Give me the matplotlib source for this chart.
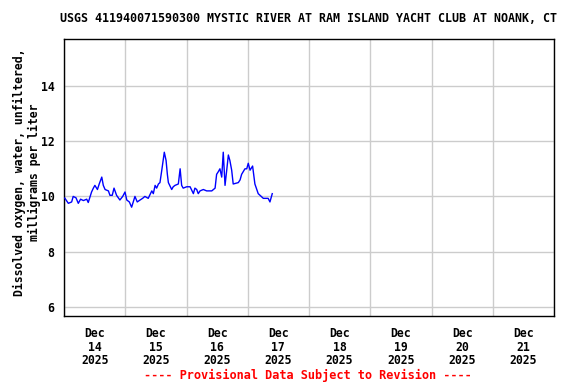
import matplotlib
matplotlib.use("Agg")
import matplotlib.pyplot as plt
import numpy as np
from datetime import datetime, timedelta

# hours since Dec 14 2025 00:00 and dissolved oxygen (mg/L)
hours = [0.3, 1.7, 3.0, 3.6, 4.7, 5.6, 6.5, 7.6, 8.9, 9.5, 10.8, 11.5, 12.1, 13.1,
         13.8, 14.8, 15.4, 16.1, 17.4, 18.0, 18.9, 19.6, 20.6, 21.9, 23.0, 23.9,
         24.6, 25.6, 26.5, 27.8, 28.7, 29.8, 30.8, 31.7, 33.0, 34.4, 35.0, 35.7,
         36.3, 37.0, 37.6, 38.3, 39.3, 40.0, 40.5, 40.9, 42.2, 42.8, 43.5, 44.8,
         45.5, 46.1, 46.7, 48.1, 49.4, 50.7, 51.3, 52.0, 52.6, 53.3, 54.6, 55.9,
         57.9, 59.2, 59.8, 60.5, 61.1, 61.8, 62.4, 63.1, 63.7, 64.4, 65.0, 65.7,
         66.3, 68.3, 69.0, 69.6, 70.9, 71.6, 72.2, 72.9, 73.9, 74.8, 76.1, 78.1,
         80.0, 80.7, 81.6]
oxygen = [9.94, 9.75, 9.8, 10.0, 9.95, 9.75, 9.9, 9.85, 9.9, 9.78, 10.16, 10.3, 10.4, 10.25,
          10.45, 10.7, 10.4, 10.25, 10.2, 10.04, 10.04, 10.3, 10.04, 9.87, 10.0, 10.16,
          9.87, 9.8, 9.61, 10.0, 9.8, 9.87, 9.93, 10.0, 9.93, 10.2, 10.1, 10.4,
          10.3, 10.45, 10.5, 10.94, 11.6, 11.3, 10.8, 10.5, 10.25, 10.35, 10.4, 10.45,
          11.0, 10.4, 10.3, 10.35, 10.35, 10.1, 10.3, 10.25, 10.1, 10.2, 10.25, 10.2,
          10.2, 10.3, 10.8, 10.9, 11.0, 10.7, 11.6, 10.4, 10.9, 11.5, 11.3, 10.95,
          10.45, 10.5, 10.6, 10.8, 11.0, 11.0, 11.2, 10.95, 11.1, 10.45, 10.1, 9.93,
          9.93, 9.8, 10.1]

start = datetime(2025, 12, 14)
n_days = 8
yticks = [6, 8, 10, 12, 14]

mono = "DejaVu Sans Mono"
times = [start + timedelta(hours=h) for h in hours]

fig = plt.figure(figsize=(5.76, 3.84), dpi=100)
ax = fig.add_axes([64 / 576, 1 - 316 / 384, 490 / 576, 277 / 384])

ax.plot(times, oxygen, color="#0000ff", linewidth=1, zorder=3)

ax.set_xlim(start, start + timedelta(days=n_days))
ax.set_ylim(5.67, 15.7)

# gridlines at midnight, labels at noon
days = [start + timedelta(days=i) for i in range(n_days + 1)]
ax.set_xticks(days, minor=False)
ax.set_xticklabels([])
noons = [d + timedelta(hours=12) for d in days[:-1]]
ax.set_xticks(noons, minor=True)
ax.set_xticklabels([f"Dec\n{d.day}\n{d.year}" for d in noons], minor=True,
                   family=mono, fontweight="bold", fontsize=8.3, linespacing=1.05)
ax.tick_params(axis="x", which="both", length=0, pad=8)

ax.set_yticks(yticks)
ax.set_yticklabels([str(v) for v in yticks], family=mono, fontweight="bold", fontsize=8.3)
ax.tick_params(axis="y", length=0, pad=7)

ax.grid(True, which="major", color="#cccccc", linewidth=1)
ax.set_axisbelow(True)
for s in ax.spines.values():
    s.set_color("black")
    s.set_linewidth(1)

ax.set_ylabel("Dissolved oxygen, water, unfiltered,\nmilligrams per liter",
              family=mono, fontweight="bold", fontsize=8.3, linespacing=1.2)
ax.yaxis.set_label_coords(-0.047, 0.52)

fig.text(309 / 576, 1 - 19 / 384,
         "USGS 411940071590300 MYSTIC RIVER AT RAM ISLAND YACHT CLUB AT NOANK, CT",
         family=mono, fontweight="bold", fontsize=8.35, ha="center", va="center")
fig.text(308 / 576, 1 - 375 / 384, "---- Provisional Data Subject to Revision ----",
         family=mono, fontweight="bold", fontsize=8.6, color="#ff0000",
         ha="center", va="center")

fig.savefig("out.png", dpi=100, facecolor="white")
